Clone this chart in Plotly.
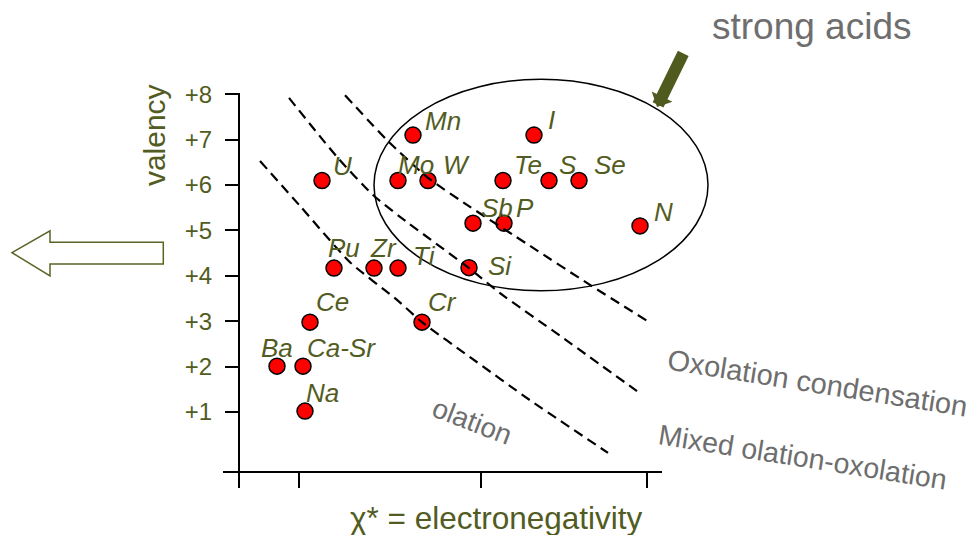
import plotly.graph_objects as go

# element positions: electronegativity (arbitrary scale) vs valency
elements = ["Ba", "Ca-Sr", "Na", "Ce", "Pu", "Zr", "Ti", "Si", "Cr", "U",
            "Mo", "W", "Te", "S", "Se", "Mn", "I", "Sb", "P", "N"]
chi = [0.38, 0.64, 0.66, 0.71, 0.95, 1.35, 1.59, 2.30, 1.83, 0.83,
       1.59, 1.89, 2.64, 3.10, 3.40, 1.74, 2.95, 2.34, 2.65, 4.01]
valency = [2.01, 2.01, 1.02, 2.98, 4.17, 4.17, 4.17, 4.18, 2.98, 6.10,
           6.10, 6.10, 6.10, 6.10, 6.10, 7.10, 7.10, 5.16, 5.16, 5.10]

# dashed domain boundaries
olation_chi = [0.21, 0.61, 1.11, 1.58, 1.83, 2.31, 2.91, 3.69]
olation_val = [6.53, 5.54, 4.30, 3.47, 2.98, 2.21, 1.26, 0.10]
mixed_chi = [0.50, 0.98, 1.34, 1.61, 2.30, 2.61, 3.21, 3.98]
mixed_val = [7.92, 6.62, 5.78, 5.30, 4.17, 3.62, 2.68, 1.46]
oxolation_chi = [1.06, 1.48, 1.89, 2.31, 2.91, 3.51, 4.08]
oxolation_val = [7.98, 6.99, 6.16, 5.52, 4.66, 3.80, 3.01]

valency_ticks = [1, 2, 3, 4, 5, 6, 7, 8]
valency_labels = ["+1", "+2", "+3", "+4", "+5", "+6", "+7", "+8"]
chi_ticks = [0, 0.60, 2.42, 4.08]

# strong acids region (ellipse bounds)
acid_chi = [1.35, 4.69]
acid_val = [3.67, 8.33]

OLIVE = "#525c22"
GREY = "#6e6e6e"
FONT = "Arial, Liberation Sans, sans-serif"

# label offsets in pixels (dx to text left edge, dy to text centre)
label_offset = {
    "Ba": (-18, -18), "Ca-Sr": (2, -18), "Na": (-1, -18), "Ce": (4, -20),
    "Pu": (-8, -20), "Zr": (-6, -20), "Ti": (13, -12), "Si": (17, -2),
    "Cr": (4, -20), "U": (9, -15), "Mo": (-2, -16), "W": (13, -16),
    "Te": (9, -16), "S": (8, -16), "Se": (13, -16), "Mn": (10, -14),
    "I": (12, -15), "Sb": (6, -15), "P": (10, -15), "N": (12, -14),
}

fig = go.Figure()

fig.add_trace(go.Scatter(
    x=chi, y=valency, mode="markers",
    marker=dict(size=16, color="#ff0000", line=dict(color="black", width=1.5)),
    showlegend=False, hoverinfo="skip"))

for xs, ys in [(olation_chi, olation_val), (mixed_chi, mixed_val),
               (oxolation_chi, oxolation_val)]:
    fig.add_trace(go.Scatter(
        x=xs, y=ys, mode="lines",
        line=dict(color="black", width=2.2, dash="10px,6px", shape="spline", smoothing=0.6),
        showlegend=False, hoverinfo="skip"))

annotations = []
for name, x, y in zip(elements, chi, valency):
    dx, dy = label_offset[name]
    annotations.append(dict(
        x=x, y=y, xref="x", yref="y", text="<i>" + name + "</i>", showarrow=False,
        xanchor="left", yanchor="middle", xshift=dx, yshift=-dy,
        font=dict(family=FONT, size=26, color=OLIVE)))

# axis titles
annotations.append(dict(x=-0.85, y=7.10, xref="x", yref="y", text="valency",
                        showarrow=False, textangle=-90,
                        font=dict(family=FONT, size=30, color=OLIVE)))
annotations.append(dict(x=2.575, y=-1.33, xref="x", yref="y",
                        text="χ* = electronegativity", showarrow=False,
                        font=dict(family=FONT, size=31.5, color=OLIVE)))

# region texts
annotations += [
    dict(x=5.73, y=9.50, xref="x", yref="y", text="strong acids", showarrow=False,
         font=dict(family=FONT, size=37, color=GREY)),
    dict(x=5.78, y=1.64, xref="x", yref="y", text="Oxolation condensation",
         showarrow=False, textangle=9, font=dict(family=FONT, size=29, color=GREY)),
    dict(x=5.64, y=0.01, xref="x", yref="y", text="Mixed olation-oxolation",
         showarrow=False, textangle=9, font=dict(family=FONT, size=28.5, color=GREY)),
    dict(x=2.335, y=0.80, xref="x", yref="y", text="olation",
         showarrow=False, textangle=21, font=dict(family=FONT, size=28, color=GREY)),
]

# filled arrow pointing to strong acids
annotations.append(dict(x=4.18, y=7.72, xref="x", yref="y", text="",
                        showarrow=True, axref="pixel", ayref="pixel", ax=27, ay=-55,
                        arrowhead=1, arrowsize=0.32, arrowwidth=12,
                        arrowcolor="#4f5a1f", standoff=0))

fig.update_layout(annotations=annotations)

# hollow arrow on the left
tip_x, tip_y = -2.27, 4.51
head_x, head_hi, head_lo = -1.89, 4.99, 4.00
shaft_hi, shaft_lo, shaft_end = 4.74, 4.26, -0.757
arrow_path = (f"M{tip_x},{tip_y} L{head_x},{head_hi} L{head_x},{shaft_hi} "
              f"L{shaft_end},{shaft_hi} L{shaft_end},{shaft_lo} L{head_x},{shaft_lo} "
              f"L{head_x},{head_lo} Z")

fig.update_layout(shapes=[
    dict(type="circle", xref="x", yref="y", x0=acid_chi[0], x1=acid_chi[1],
         y0=acid_val[0], y1=acid_val[1], line=dict(color="black", width=1.5)),
    dict(type="line", xref="x", yref="y", x0=0, x1=0, y0=-0.65, y1=8.03,
         line=dict(color="black", width=2)),
    dict(type="line", xref="x", yref="y", x0=-0.16, x1=4.23, y0=-0.32, y1=-0.32,
         line=dict(color="black", width=2)),
    dict(type="path", xref="x", yref="y", path=arrow_path,
         line=dict(color="#5b6325", width=1.5), fillcolor="white"),
])

fig.update_xaxes(range=[-2.39, 7.35], anchor="free", position=(535 - 472) / 535,
                 tickvals=chi_ticks, ticks="outside", ticklen=15, tickwidth=2,
                 tickcolor="black", showticklabels=False, showgrid=False,
                 zeroline=False, showline=False)
fig.update_yaxes(range=[-1.71, 10.077], anchor="free", position=239 / 974,
                 tickvals=valency_ticks, ticktext=valency_labels, ticks="outside",
                 ticklen=14, tickwidth=2, tickcolor="black", ticklabelstandoff=8,
                 tickfont=dict(family=FONT, size=24, color=OLIVE),
                 showgrid=False, zeroline=False, showline=False)

fig.update_layout(width=974, height=535, margin=dict(l=0, r=0, t=0, b=0),
                  plot_bgcolor="white", paper_bgcolor="white")

fig.write_html("out.html", config={"displayModeBar": False},
               post_script="document.body.style.margin = '0';")
